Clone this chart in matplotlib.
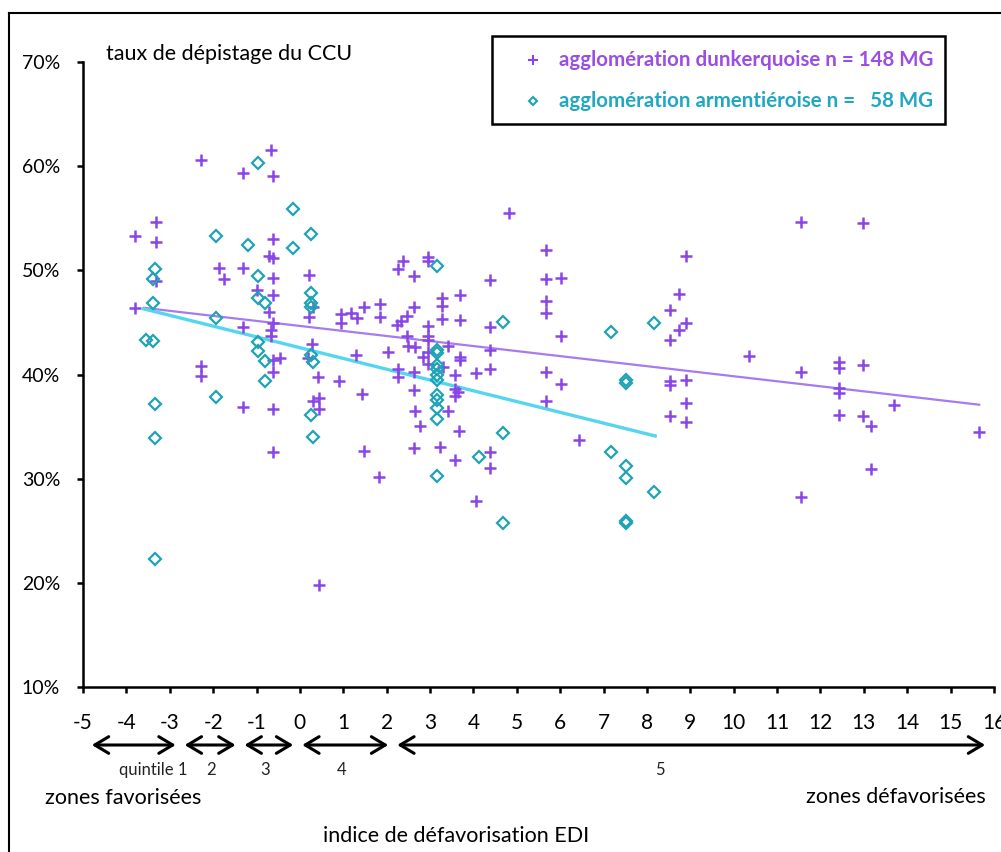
import numpy as np
import matplotlib
matplotlib.use('Agg')
import matplotlib.pyplot as plt
import matplotlib.transforms as mtransforms
from matplotlib.lines import Line2D
from matplotlib.patches import Rectangle, FancyArrowPatch

plt.rcParams['font.family'] = ['Lato', 'DejaVu Sans']
plt.rcParams['axes.unicode_minus'] = False

# agglomération dunkerquoise (+)
dk_x = [-2.27, -0.67, -1.32, -0.61, -3.31, -3.80, -3.31, -0.61, -0.72, -0.61,
        -3.32, -1.86, -1.74, -1.32, -0.61, 0.22, -0.99, -0.63, -0.71, -3.80,
        -1.32, -0.61, -0.67, -0.67, -0.61, -0.45, -0.61, -2.27, -2.27, -1.32,
        -0.61, -0.61, 0.28, 0.30, 0.22, 0.18, 0.42, 0.90, 0.94, 0.94,
        1.18, 1.32, 1.48, 1.85, 1.85, 1.29, 2.02, 2.25, 2.38, 2.62,
        2.96, 2.96, 4.38, 4.81, 2.24, 2.34, 2.46, 2.62, 3.28, 3.28,
        3.68, 3.28, 3.68, 2.96, 2.96, 2.96, 2.48, 2.50, 2.65, 2.83,
        2.96, 2.96, 3.30, 3.42, 3.68, 3.68, 4.38, 4.38, 4.38, 4.06,
        3.58, 2.25, 2.25, 2.62, 0.43, 0.30, 0.43, 1.43, 1.48, 1.83,
        0.43, 2.62, 2.66, 2.76, 2.62, 3.42, 3.22, 3.58, 3.64, 3.58,
        3.67, 3.58, 4.38, 4.38, 4.06, 5.67, 5.67, 6.01, 5.67, 5.67,
        6.01, 8.91, 8.75, 8.54, 8.75, 8.91, 8.54, 5.67, 6.01, 5.67,
        8.54, 8.54, 8.91, 8.91, 8.54, 8.91, 6.43, 11.54, 12.99, 10.35,
        11.54, 12.42, 12.42, 12.99, 12.42, 12.42, 13.69, 12.42, 12.99, 13.17,
        15.65, 13.17, 11.54]
dk_y = [60.6, 61.6, 59.3, 59.1, 54.6, 53.3, 52.7, 53.0, 51.4, 51.2,
        49.0, 50.2, 49.2, 50.2, 49.3, 49.6, 48.1, 47.6, 46.0, 46.4,
        44.6, 44.9, 44.3, 43.7, 41.4, 41.6, 40.2, 40.8, 39.9, 36.9,
        36.7, 32.6, 42.9, 46.5, 45.5, 41.6, 39.8, 39.4, 45.8, 44.9,
        45.9, 45.4, 46.5, 46.8, 45.5, 41.9, 42.2, 50.1, 50.9, 49.5,
        51.3, 50.9, 49.1, 55.5, 44.8, 45.1, 45.6, 46.5, 47.3, 46.6,
        47.6, 45.3, 45.2, 44.7, 43.7, 43.3, 43.7, 42.7, 42.6, 41.7,
        42.2, 41.0, 40.7, 42.7, 41.7, 41.4, 44.6, 42.4, 40.5, 40.1,
        40.0, 40.5, 39.8, 40.2, 37.7, 37.5, 36.7, 38.1, 32.7, 30.2,
        19.8, 38.5, 36.5, 35.1, 32.9, 36.5, 33.0, 38.6, 38.3, 37.9,
        34.6, 31.8, 32.6, 31.0, 27.9, 52.0, 49.2, 49.3, 47.1, 45.9,
        43.7, 51.4, 47.7, 46.2, 44.3, 44.9, 43.3, 40.2, 39.1, 37.5,
        39.4, 39.0, 39.5, 37.3, 36.0, 35.4, 33.7, 54.6, 54.5, 41.8,
        40.2, 41.2, 40.6, 40.9, 38.7, 38.2, 37.1, 36.1, 36.0, 35.1,
        34.5, 30.9, 28.2]

# agglomération armentiéroise (losanges)
ar_x = [-0.97, -0.16, 0.26, -1.94, -1.19, -0.16, -3.34, -3.38, -0.97, -0.97,
        -0.80, 0.26, 0.26, 0.26, -3.38, -1.94, -3.54, -3.38, -0.97, -0.97,
        -0.80, -0.80, -1.94, -3.34, -3.34, -3.34, 0.26, 0.31, 0.26, 0.30,
        3.15, 4.69, 3.15, 3.15, 3.15, 3.15, 3.15, 3.15, 3.15, 3.15,
        3.15, 3.15, 3.15, 4.13, 4.69, 4.69, 7.16, 8.17, 7.52, 7.52,
        7.16, 7.52, 7.52, 8.17, 7.52, 7.52]
ar_y = [60.3, 55.9, 53.5, 53.3, 52.4, 52.1, 50.1, 49.2, 49.5, 47.3,
        46.9, 47.8, 46.9, 46.5, 46.9, 45.4, 43.3, 43.2, 43.1, 42.3,
        41.3, 39.4, 37.8, 37.2, 33.9, 22.3, 41.9, 41.2, 36.1, 34.0,
        50.4, 45.0, 42.4, 42.1, 40.9, 40.5, 40.0, 39.5, 38.0, 37.6,
        36.8, 35.7, 30.3, 32.1, 34.4, 25.7, 44.1, 44.9, 39.5, 39.2,
        32.6, 31.2, 30.1, 28.7, 25.9, 25.7]

# droites de tendance
dk_trend_x = [-3.60, 15.66]
dk_trend_y = [46.4, 37.1]
ar_trend_x = [-3.60, 8.19]
ar_trend_y = [46.3, 34.1]

# quintiles EDI
quintile_bounds = [-4.9, -2.76, -1.38, -0.05, 2.14, 15.9]
quintile_labels = ['quintile 1', '2', '3', '4', '5']
quintile_label_x = [-3.39, -2.06, -0.80, 0.97, 8.30]

purple = '#8A45E6'
purple_line = '#A67BEF'
teal = '#1FA3B5'
cyan_line = '#55D6EE'

W, H = 1001, 852
fig = plt.figure(figsize=(W / 100, H / 100), dpi=100)


def fx(px):
    return px / W


def fy(py):
    return 1 - py / H


ax = fig.add_axes([fx(83), fy(687), (994 - 83) / W, (687 - 62) / H])

ax.plot(dk_trend_x, dk_trend_y, color=purple_line, lw=1.6, zorder=2)
ax.plot(ar_trend_x, ar_trend_y, color=cyan_line, lw=2.4, zorder=2)
ax.plot(dk_x, dk_y, ls='none', marker='+', ms=8, mew=1.8, color=purple, zorder=3)
ax.plot(ar_x, ar_y, ls='none', marker='D', ms=6, mfc='none', mec=teal, mew=1.6, zorder=3)

ax.set_xlim(-5, 16)
ax.set_ylim(10, 70)
ax.set_xticks(range(-5, 17))
ax.set_yticks(range(10, 71, 10))
ax.set_yticklabels([f'{v}%' for v in range(10, 71, 10)])
for s in ['top', 'right']:
    ax.spines[s].set_visible(False)
for s in ['left', 'bottom']:
    ax.spines[s].set_linewidth(1.8)
ax.tick_params(axis='both', direction='out', length=4.5, width=1.8)
ax.tick_params(axis='x', pad=14, labelsize=15)
ax.tick_params(axis='y', pad=12, labelsize=14)

# flèches des quintiles sous l'axe
trans = mtransforms.blended_transform_factory(ax.transData, ax.transAxes)
arrow_y = (687 - 745) / 625
for i in range(len(quintile_bounds) - 1):
    arr = FancyArrowPatch((quintile_bounds[i] + 0.04, arrow_y),
                          (quintile_bounds[i + 1] - 0.04, arrow_y),
                          transform=trans, arrowstyle='<->,head_length=0.5,head_width=0.3',
                          mutation_scale=20, lw=2.2, color='black', clip_on=False)
    ax.add_patch(arr)
for lx, lab in zip(quintile_label_x, quintile_labels):
    ax.text(lx, (687 - 770) / 625, lab, transform=trans, ha='center', va='center',
            fontsize=12, color='#222222', clip_on=False)

ax.set_xlim(-5, 16)
ax.set_ylim(10, 70)

fig.text(fx(106), fy(54), 'taux de dépistage du CCU', fontsize=15.5, va='center')
fig.text(fx(45), fy(798), 'zones favorisées', fontsize=15.5, va='center')
fig.text(fx(986), fy(797), 'zones défavorisées', fontsize=15.5, va='center', ha='right')
fig.text(fx(456), fy(836), 'indice de défavorisation EDI', fontsize=15.5, va='center', ha='center')

# légende
fig.add_artist(Rectangle((fx(492), fy(124)), (945 - 492) / W, (124 - 36) / H,
                         transform=fig.transFigure, fill=False, ec='black', lw=1.8))
fig.add_artist(Line2D([fx(533)], [fy(60)], marker='+', ms=6.5, mew=1.5, color=purple,
                      transform=fig.transFigure))
fig.add_artist(Line2D([fx(533)], [fy(101)], marker='D', ms=4.5, mew=1.5, mfc='none',
                      mec=teal, transform=fig.transFigure))
fig.text(fx(559), fy(60), 'agglomération dunkerquoise n = 148 MG', color='#9A4EE4',
         fontweight='bold', fontsize=14.8, va='center')
fig.text(fx(559), fy(101), 'agglomération armentiéroise n =   58 MG', color='#22A7C2',
         fontweight='bold', fontsize=14.8, va='center')

# cadre de l'image
fig.add_artist(Line2D([fx(9), fx(9)], [fy(13), 0], color='black', lw=1.5,
                      transform=fig.transFigure))
fig.add_artist(Line2D([fx(9), 1], [fy(13), fy(13)], color='black', lw=1.5,
                      transform=fig.transFigure))

fig.savefig('out.png', dpi=100)
